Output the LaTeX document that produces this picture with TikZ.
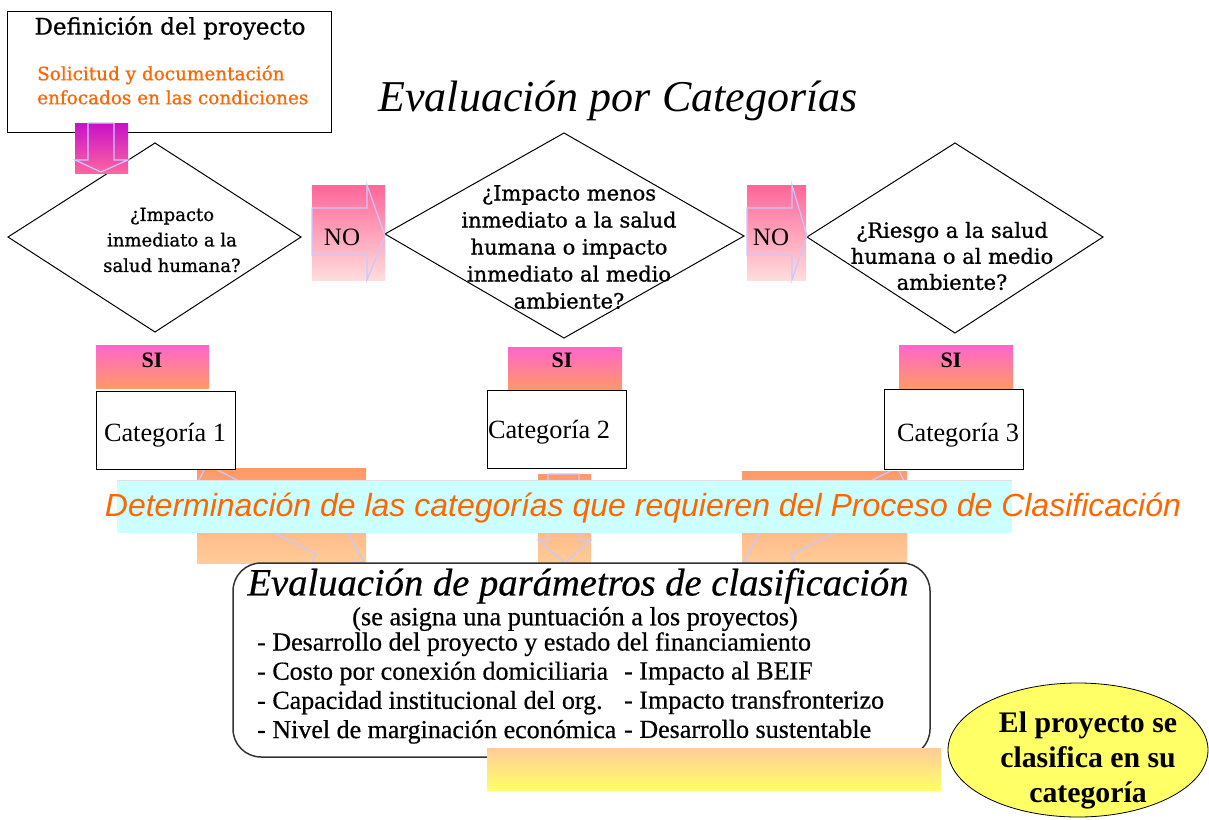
\documentclass[tikz,border=0pt]{standalone}
\usepackage{fontspec}
\usetikzlibrary{shapes.geometric}
\setmainfont{DejaVu Serif}
\newfontfamily\heavy[FakeBold=0.9]{DejaVu Serif}
\newfontfamily\tms{Liberation Serif}
\newfontfamily\tmsh[FakeBold=0.5]{Liberation Serif}
\newfontfamily\ars{Liberation Sans}
\definecolor{lav}{HTML}{C8C8FF}
\definecolor{orangeT}{HTML}{FF6600}
\definecolor{noTop}{HTML}{FF6699}
\definecolor{noBot}{HTML}{FFDDDD}
\definecolor{magTop}{HTML}{C810C8}
\definecolor{magBot}{HTML}{FF66A0}
\definecolor{siTop}{HTML}{FF66CC}
\definecolor{siBot}{HTML}{FF9966}
\definecolor{orTop}{HTML}{FF9966}
\definecolor{orBot}{HTML}{FFCC99}
\definecolor{ylTop}{HTML}{FFCC99}
\definecolor{ylBot}{HTML}{FFFF66}
\definecolor{bandC}{HTML}{CCFFFF}
\definecolor{ellC}{HTML}{FFFF66}
\definecolor{edge}{HTML}{333333}
\newcommand\fs[2]{\fontsize{#1}{#2}\selectfont}
\begin{document}
\begin{tikzpicture}[x=1pt,y=-1pt,
  outl/.style={draw=lav, line width=1.2pt},
  boxstyle/.style={draw=black, line width=1.1pt, fill=white, inner sep=0pt, anchor=north west},
  gradbox/.style={inner sep=0pt, anchor=north west, draw=none},
  dia/.style={draw=black, line width=1pt, fill=white},
  qtext/.style={font=\heavy\fs{21}{26.5}, align=center},
  notext/.style={font=\tms\fs{25}{28}},
  sitext/.style={font=\tms\bfseries\fs{22}{26}},
  cattext/.style={font=\tms\fs{26.3}{30}},
  listtext/.style={font=\tmsh\fs{26}{29.2}, align=left, anchor=north west}
]
\useasboundingbox (0,0) rectangle (1209,819);
\fill[white] (0,0) rectangle (1209,819);

% top box
\node[boxstyle, minimum width=324, minimum height=121] (defbox) at (7,11) {};
\node[font=\heavy\fs{23}{27}] (deftitle) at (170,28) {Definición del proyecto};
\node[font=\heavy\fs{18.4}{24}, text=orangeT, align=left, anchor=west, inner sep=0pt] (defsub) at (37,85) {Solicitud y documentación\\enfocados en las condiciones};

% title
\node[font=\tms\itshape\fs{44}{48}] (title) at (618,101) {Evaluación por Categorías};

% diamonds
\draw[dia] (8,237) -- (155,143) -- (301,237) -- (155,332) -- cycle;
\draw[dia] (385,234) -- (564,133) -- (744,236) -- (564,338) -- cycle;
\draw[dia] (807,237) -- (955,143) -- (1103,237) -- (955,333) -- cycle;
\node[qtext, font=\heavy\fs{18}{25.5}] (q1) at (172,240) {¿Impacto\\inmediato a la\\salud humana?};
\node[qtext, font=\heavy\fs{21}{27}] (q2) at (569,247) {¿Impacto menos\\inmediato a la salud\\humana o impacto\\inmediato al medio\\ambiente?};
\node[qtext, font=\heavy\fs{21}{26}] (q3) at (952,256) {¿Riesgo a la salud\\humana o al medio\\ambiente?};

% down arrow from definition
\node[gradbox, top color=magTop, bottom color=magBot, minimum width=53, minimum height=50] (downarr) at (75,123) {};
\draw[outl] (88,123) -- (88,160) -- (75,160) -- (101,172) -- (128,160) -- (114,160) -- (114,123) -- cycle;

% NO arrows
\node[gradbox, top color=noTop, bottom color=noBot, minimum width=73, minimum height=95] (noarr1) at (312,185) {};
\draw[outl] (312,208) -- (367,208) -- (367,185) -- (385,236) -- (367,280) -- (367,255) -- (312,255) -- cycle;
\node[notext] (no1) at (342,237) {NO};
\node[gradbox, top color=noTop, bottom color=noBot, minimum width=59, minimum height=95] (noarr2) at (747,185) {};
\draw[outl] (747,208) -- (792,208) -- (792,185) -- (807,236) -- (792,280) -- (792,255) -- (747,255) -- cycle;
\node[notext] (no2) at (771,237) {NO};

% SI boxes
\node[gradbox, top color=siTop, bottom color=siBot, minimum width=113, minimum height=43] (sibox1) at (96,345) {};
\node[sitext] (si1) at (152,360) {SI};
\node[gradbox, top color=siTop, bottom color=siBot, minimum width=114, minimum height=43] (sibox2) at (508,347) {};
\node[sitext] (si2) at (562,360) {SI};
\node[gradbox, top color=siTop, bottom color=siBot, minimum width=114, minimum height=43] (sibox3) at (899,345) {};
\node[sitext] (si3) at (951,360) {SI};

% orange arrow areas
\node[gradbox, top color=orTop, bottom color=orBot, minimum width=169, minimum height=95] (orarea1) at (197,468) {};
\node[gradbox, top color=orTop, bottom color=orBot, minimum width=53, minimum height=89] (orarea2) at (538,474) {};
\node[gradbox, top color=orTop, bottom color=orBot, minimum width=165, minimum height=92] (orarea3) at (742,471) {};
\begin{scope}
  \clip (197,468) rectangle (366,563);
  \draw[outl, shift={(200,478)}, rotate=-27] (0,-15) -- (138,-15) -- (138,-30) -- (184,0) -- (138,30) -- (138,15) -- (0,15) -- cycle;
\end{scope}
\begin{scope}
  \clip (742,471) rectangle (907,563);
  \draw[outl, shift={(904,481)}, rotate=-153.3] (0,-15) -- (134,-15) -- (134,-30) -- (180,0) -- (134,30) -- (134,15) -- (0,15) -- cycle;
\end{scope}
\draw[outl] (548,474) -- (579,474) -- (579,540) -- (591,540) -- (565,563) -- (538,540) -- (548,540) -- cycle;

% category boxes
\node[boxstyle, minimum width=139, minimum height=78] (catbox1) at (96,391) {};
\node[cattext] (cat1) at (165,435) {Categoría 1};
\node[boxstyle, minimum width=139, minimum height=78] (catbox2) at (487,390) {};
\node[cattext] (cat2) at (549,432) {Categoría 2};
\node[boxstyle, minimum width=139, minimum height=80] (catbox3) at (884,389) {};
\node[cattext] (cat3) at (958,435) {Categoría 3};

% cyan band
\node[gradbox, fill=bandC, minimum width=895, minimum height=53] (band) at (117,480) {};
\draw[black!12, line width=0.8pt] (band.north west) -- (band.north east);
\node[font=\ars\itshape\fs{32}{36}, text=orangeT] (bandtext) at (643,508) {Determinación de las categorías que requieren del Proceso de Clasificación};

% evaluation box
\draw[draw=edge, line width=1.5pt, fill=white, rounded corners=28] (233,563) rectangle (930,757);
\node[font=\tmsh\itshape\fs{38.6}{42}] (evaltitle) at (578,586) {Evaluación de parámetros de clasificación};
\node[font=\tmsh\fs{26.3}{28}] (evalsub) at (575,619) {(se asigna una puntuación a los proyectos)};
\node[listtext, inner sep=0pt] (listL) at (257,632) {- Desarrollo del proyecto y estado del financiamiento\\- Costo por conexión domiciliaria\\- Capacidad institucional del org.\\- Nivel de marginación económica};
\node[listtext, inner sep=0pt] (listR) at (624,661.2) {- Impacto al BEIF\\- Impacto transfronterizo\\- Desarrollo sustentable};

% yellow bar
\node[gradbox, top color=ylTop, bottom color=ylBot, minimum width=454, minimum height=42] (ybar) at (487,748) {};

% ellipse
\node[ellipse, draw=black, line width=0.8pt, fill=ellC, minimum width=260, minimum height=134, inner sep=0pt] (ell) at (1078,750) {};
\node[font=\tms\bfseries\fs{29.8}{35}, align=center] (elltext) at (1088,760) {El proyecto se\\clasifica en su\\categoría};
\end{tikzpicture}
\end{document}
